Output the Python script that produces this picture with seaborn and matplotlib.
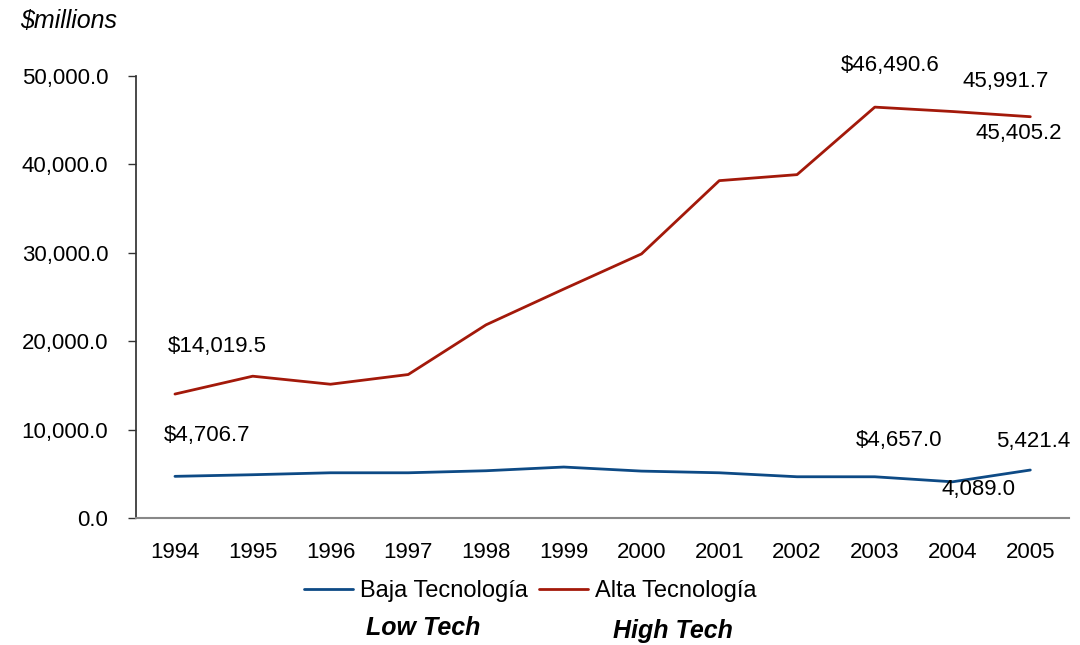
import matplotlib
matplotlib.use("Agg")
import matplotlib.pyplot as plt
from matplotlib.ticker import FuncFormatter, MultipleLocator
import seaborn as sns
import pandas as pd

sns.set_theme(style="white")
plt.rcParams["font.family"] = ["Liberation Sans", "DejaVu Sans"]
plt.rcParams["text.color"] = "black"

# data
years = [1994, 1995, 1996, 1997, 1998, 1999, 2000, 2001, 2002, 2003, 2004, 2005]
low_tech = [4706.7, 4890, 5110, 5110, 5340, 5760, 5300, 5110, 4660, 4657.0, 4089.0, 5421.4]
high_tech = [14019.5, 16040, 15130, 16230, 21850, 25900, 29880, 38170, 38850, 46490.6, 45991.7, 45405.2]
series_names = ["Baja Tecnología", "Alta Tecnología"]
colors = ["#0d4a85", "#a3190a"]

df = pd.DataFrame({
    "year": years * 2,
    "value": low_tech + high_tech,
    "series": [series_names[0]] * len(years) + [series_names[1]] * len(years),
})

# labelled points: (series index, year, text, offset in pixels)
labels = [
    (1, 1994, "$14,019.5", (42, 48)),
    (0, 1994, "$4,706.7", (32, 41)),
    (1, 2003, "$46,490.6", (15, 42)),
    (1, 2004, "45,991.7", (53, 30)),
    (1, 2005, "45,405.2", (-12, -17)),
    (0, 2003, "$4,657.0", (24, 36)),
    (0, 2004, "4,089.0", (26, -8)),
    (0, 2005, "5,421.4", (3, 29)),
]

fig = plt.figure(figsize=(10.8, 6.45), dpi=100)
ax = fig.add_axes([0.126, 0.197, 0.864, 0.685])

sns.lineplot(data=df, x="year", y="value", hue="series", palette=colors,
             linewidth=2, ax=ax, legend=True)

ax.set_xlim(1993.5, 2005.5)
ax.set_ylim(0, 50000)
ax.yaxis.set_major_locator(MultipleLocator(10000))
ax.yaxis.set_major_formatter(FuncFormatter(lambda v, p: f"{v:,.1f}"))
ax.set_xticks(years)
ax.set_xticklabels([str(y) for y in years])
ax.set_xticks([y - 0.5 for y in years] + [2005.5], minor=True)
ax.tick_params(axis="x", which="major", length=0, labelsize=16, pad=17, colors="black")
ax.tick_params(axis="x", which="minor", length=7, width=1, color="#333333", direction="out")
ax.tick_params(axis="y", length=6, width=1, color="#333333", direction="out",
               labelsize=16, pad=14, labelcolor="black", left=True)
ax.set_xlabel("")
ax.set_ylabel("")
for s in ["top", "right"]:
    ax.spines[s].set_visible(False)
ax.spines["left"].set_color("#333333")
ax.spines["bottom"].set_color("#888888")
ax.spines["bottom"].set_linewidth(1.5)

series_vals = [low_tech, high_tech]
for si, yr, txt, off in labels:
    val = series_vals[si][years.index(yr)]
    ax.annotate(txt, xy=(yr, val), xytext=off, textcoords="offset pixels",
                ha="center", va="center", fontsize=16, color="black")

handles, lbls = ax.get_legend_handles_labels()
ax.legend_.remove()
leg = fig.legend(handles, lbls, loc="center", bbox_to_anchor=(0.491, 0.084), ncol=2,
                 frameon=False, fontsize=17, handlelength=2.1, handletextpad=0.3,
                 columnspacing=0.45)
for t in leg.get_texts():
    t.set_color("black")

fig.text(0.392, 0.026, "Low Tech", ha="center", va="center", fontsize=18,
         style="italic", weight="bold")
fig.text(0.623, 0.022, "High Tech", ha="center", va="center", fontsize=18,
         style="italic", weight="bold")
fig.text(0.019, 0.967, "$millions", ha="left", va="center", fontsize=18,
         style="italic")

fig.savefig("out.png", dpi=100)
